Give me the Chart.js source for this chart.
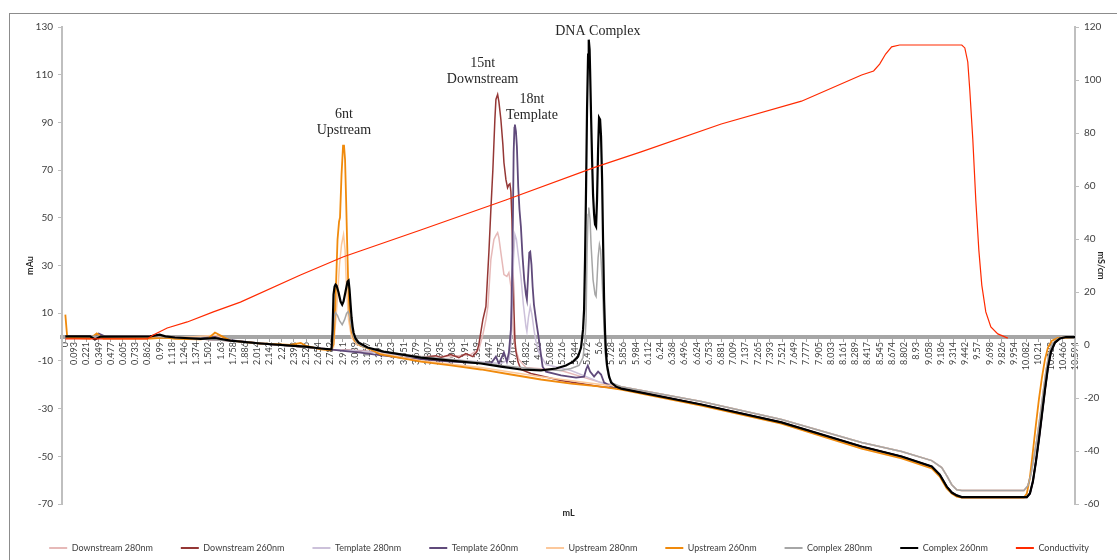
<!DOCTYPE html>
<html>
<head>
<meta charset="utf-8">
<script src="https://cdn.jsdelivr.net/npm/chart.js@4.4.1/dist/chart.umd.min.js"></script>
<style>
  html, body { margin: 0; padding: 0; background: #fff; }
  #wrap { width: 1117px; height: 560px; }
</style>
</head>
<body>
<div id="wrap"><canvas id="chrom" width="1117" height="560"></canvas></div>
<script>
// Elution volume tick labels (mL)
const xTickLabels = ['0','0.093','0.221','0.349','0.477','0.605','0.733','0.862','0.99','1.118','1.246','1.374','1.502','1.63','1.758','1.886','2.014','2.142','2.27','2.398','2.526','2.654','2.782','2.911','3.039','3.167','3.295','3.423','3.551','3.679','3.807','3.935','4.063','4.191','4.319','4.447','4.575','4.703','4.832','4.96','5.088','5.216','5.344','5.472','5.6','5.728','5.856','5.984','6.112','6.24','6.368','6.496','6.624','6.753','6.881','7.009','7.137','7.265','7.393','7.521','7.649','7.777','7.905','8.033','8.161','8.289','8.417','8.545','8.674','8.802','8.93','9.058','9.186','9.314','9.442','9.57','9.698','9.826','9.954','10.082','10.21','10.338','10.466','10.594'];
const xTickValues = xTickLabels.map(Number);

// Absorbance traces, [mL, mAu]
const downstream280 = [[0,0.2],[0.89,0.2],[1.15,-0.2],[1.42,-0.8],[1.73,-1.5],[2.05,-2.7],[2.36,-3.6],[2.68,-4.8],[2.79,-5.2],[3.1,-5.6],[3.31,-6.5],[3.729,-8.2],[4.044,-8.2],[4.255,-7.3],[4.339,-5.2],[4.381,1.0],[4.413,7.3],[4.434,12.8],[4.465,32.5],[4.497,40.9],[4.518,42.6],[4.536,43.8],[4.549,41.7],[4.570,35.4],[4.602,26.2],[4.633,25.4],[4.654,27.0],[4.675,21.2],[4.692,7.3],[4.707,-1.0],[4.717,-4.0],[4.759,-9.4],[4.833,-12.8],[5.201,-14.0],[5.621,-19.1],[5.832,-20.8],[6.673,-27.0],[7.514,-34.6],[8.355,-44.2],[8.775,-48.0],[9.091,-51.8],[9.196,-54.7],[9.248,-58.1],[9.301,-61.9],[9.353,-64.0],[9.406,-64.3],[10.058,-64.3],[10.100,-62.3],[10.131,-57.7],[10.163,-50.5],[10.194,-43.0],[10.226,-33.8],[10.257,-24.1],[10.289,-14.5],[10.320,-7.3],[10.352,-3.1],[10.405,-1.0],[10.457,0],[10.594,0]];

const downstream260 = [[0,0.2],[0.89,0.2],[1.15,-0.2],[1.42,-0.8],[1.73,-1.5],[2.05,-2.7],[2.36,-3.6],[2.68,-4.8],[2.80,-5.2],[2.90,-5.4],[3.31,-6.5],[3.729,-8.6],[3.887,-7.8],[3.939,-8.6],[4.044,-7.3],[4.129,-8.6],[4.202,-6.9],[4.276,-8.2],[4.318,-6.1],[4.339,-3.1],[4.381,7.3],[4.413,12.8],[4.444,35.4],[4.465,53.5],[4.486,70.2],[4.507,91.2],[4.518,99.6],[4.536,101.7],[4.549,98.7],[4.570,91.2],[4.591,80.7],[4.602,73.2],[4.623,66.0],[4.640,62.6],[4.654,63.9],[4.665,64.3],[4.675,61.0],[4.686,49.3],[4.696,32.5],[4.707,11.5],[4.717,-1.0],[4.728,-6.1],[4.749,-10.3],[4.780,-13.6],[4.885,-15.3],[5.201,-18.2],[5.621,-20.8],[5.832,-21.6],[6.673,-28.3],[7.514,-35.8],[8.355,-45.9],[8.775,-50.1],[9.091,-54.3],[9.175,-57.7],[9.248,-62.7],[9.301,-65.2],[9.353,-66.4],[9.406,-67.3],[10.089,-67.3],[10.121,-65.6],[10.152,-60.6],[10.184,-52.2],[10.215,-43.0],[10.247,-32.5],[10.279,-22.0],[10.310,-12.8],[10.342,-6.1],[10.384,-2.3],[10.436,-0.6],[10.499,0],[10.594,0]];

const template280 = [[0,0.2],[0.89,0.2],[1.15,-0.2],[1.42,-0.8],[1.73,-1.5],[2.05,-2.7],[2.36,-3.6],[2.68,-4.8],[2.79,-5.2],[3.1,-5.8],[3.31,-6.7],[3.729,-8.6],[4.044,-9.4],[4.570,-11.1],[4.654,-9.4],[4.675,-3.1],[4.691,15.7],[4.702,32.5],[4.717,43.0],[4.733,40.9],[4.749,35.4],[4.780,25.4],[4.806,13.6],[4.833,4.4],[4.843,2.3],[4.859,8.2],[4.878,12.8],[4.896,9.4],[4.917,3.1],[4.938,-1.9],[4.969,-6.5],[5.043,-11.5],[5.306,-14.0],[5.621,-19.1],[5.832,-20.8],[6.673,-27.0],[7.514,-34.6],[8.355,-44.2],[8.775,-48.0],[9.091,-51.8],[9.196,-54.7],[9.248,-58.1],[9.301,-61.9],[9.353,-64.0],[9.406,-64.3],[10.058,-64.3],[10.100,-62.3],[10.131,-57.7],[10.163,-50.5],[10.194,-43.0],[10.226,-33.8],[10.257,-24.1],[10.289,-14.5],[10.320,-7.3],[10.352,-3.1],[10.405,-1.0],[10.457,0],[10.594,0]];

const template260 = [[0,0.2],[0.31,0.2],[0.35,1.5],[0.42,0.2],[0.89,0.2],[1.15,-0.4],[1.42,-0.8],[1.57,0.4],[1.73,-1.3],[2.05,-2.7],[2.36,-3.6],[2.68,-4.8],[2.783,-5.2],[2.888,-5.7],[3.098,-6.5],[3.235,-7.3],[3.518,-8.6],[4.044,-10.3],[4.465,-11.1],[4.518,-8.2],[4.549,-11.1],[4.602,-6.5],[4.633,-10.3],[4.654,-6.5],[4.675,3.1],[4.686,21.2],[4.696,49.3],[4.704,77.4],[4.712,87.8],[4.717,89.1],[4.728,86.2],[4.738,79.9],[4.752,63.1],[4.765,53.5],[4.780,46.3],[4.796,34.6],[4.815,24.1],[4.833,17.8],[4.843,15.7],[4.854,24.1],[4.868,35.4],[4.878,35.8],[4.891,30.4],[4.903,21.2],[4.917,13.6],[4.938,7.3],[4.969,-1.0],[4.990,-7.3],[5.008,-12.4],[5.043,-14.5],[5.201,-16.1],[5.359,-17.0],[5.443,-16.6],[5.464,-13.6],[5.482,-12.0],[5.506,-14.5],[5.548,-16.6],[5.590,-14.5],[5.621,-15.7],[5.653,-19.1],[5.748,-21.2],[5.832,-21.6],[6.673,-28.3],[7.514,-35.8],[8.355,-45.9],[8.775,-50.1],[9.091,-54.3],[9.175,-57.7],[9.248,-62.7],[9.301,-65.2],[9.353,-66.4],[9.406,-67.1],[10.089,-67.1],[10.121,-65.6],[10.152,-60.6],[10.184,-52.2],[10.215,-43.0],[10.247,-32.5],[10.279,-22.0],[10.310,-12.8],[10.342,-6.1],[10.384,-2.3],[10.436,-0.6],[10.499,0],[10.594,0]];

const upstream280 = [[0,0.2],[0.89,0],[1.15,-0.4],[1.57,0.8],[1.73,-1.5],[2.05,-2.7],[2.36,-3.6],[2.68,-4.8],[2.78,-5.2],[2.814,-4.4],[2.846,11.5],[2.877,30.4],[2.898,38.8],[2.919,43.0],[2.935,36.7],[2.951,19.9],[2.972,7.3],[3.003,-0.2],[3.056,-3.1],[3.203,-5.2],[3.308,-6.9],[3.729,-9.9],[4.360,-12.8],[4.990,-16.6],[5.621,-19.9],[5.832,-20.8],[6.673,-27.0],[7.514,-34.6],[8.355,-44.2],[8.775,-48.0],[9.091,-51.8],[9.196,-54.7],[9.248,-58.1],[9.301,-61.9],[9.353,-64.0],[9.406,-64.3],[10.058,-64.3],[10.100,-62.3],[10.131,-57.7],[10.163,-50.5],[10.194,-43.0],[10.226,-33.8],[10.257,-24.1],[10.289,-14.5],[10.320,-7.3],[10.352,-3.1],[10.405,-1.0],[10.457,0],[10.594,0]];

const upstream260 = [[0,9.4],[0.02,-0.2],[0.26,-0.6],[0.33,1.5],[0.40,-0.6],[0.89,-0.6],[1.05,-0.2],[1.15,-0.8],[1.42,-1.0],[1.50,-0.6],[1.57,1.9],[1.63,0.6],[1.73,-1.5],[2.05,-2.7],[2.36,-3.3],[2.47,-2.5],[2.52,-3.6],[2.68,-5.2],[2.78,-5.6],[2.814,-3.1],[2.835,15.7],[2.856,40.9],[2.872,48.4],[2.882,50.1],[2.898,68.1],[2.914,80.3],[2.924,80.3],[2.935,74.4],[2.946,57.7],[2.956,40.9],[2.967,24.1],[2.982,9.4],[3.003,2.3],[3.035,-1.5],[3.098,-3.6],[3.203,-5.2],[3.308,-7.3],[3.729,-10.3],[4.044,-11.9],[4.360,-13.6],[4.675,-15.7],[4.990,-17.8],[5.306,-19.5],[5.621,-20.8],[5.832,-22.0],[6.673,-28.7],[7.514,-36.3],[8.355,-46.8],[8.775,-50.9],[9.091,-55.1],[9.175,-58.5],[9.248,-63.5],[9.301,-65.6],[9.353,-66.9],[9.406,-67.3],[10.058,-67.3],[10.089,-65.6],[10.121,-58.9],[10.152,-48.0],[10.184,-36.7],[10.215,-26.2],[10.247,-17.0],[10.279,-9.4],[10.310,-4.4],[10.352,-1.5],[10.415,-0.4],[10.594,0]];

const complex280 = [[0,0.3],[0.89,0.3],[1.15,-0.2],[1.42,-0.8],[1.73,-1.5],[2.05,-2.7],[2.36,-3.6],[2.68,-4.8],[2.79,-5.2],[2.804,-3.1],[2.814,5.2],[2.825,9.4],[2.835,10.3],[2.856,9.0],[2.877,6.9],[2.905,5.2],[2.930,7.3],[2.951,9.9],[2.968,10.7],[2.982,9.0],[3.003,4.0],[3.024,0.2],[3.056,-2.3],[3.119,-4.0],[3.308,-6.1],[3.729,-8.2],[4.044,-9.4],[4.360,-10.7],[4.570,-11.9],[4.990,-13.6],[5.201,-14.0],[5.306,-13.2],[5.390,-11.9],[5.432,-8.6],[5.453,-1.0],[5.464,7.3],[5.474,35.4],[5.485,51.4],[5.492,54.3],[5.506,49.3],[5.516,38.8],[5.537,24.1],[5.558,17.8],[5.569,17.0],[5.579,24.1],[5.590,33.3],[5.604,38.8],[5.616,36.7],[5.632,24.1],[5.642,14.5],[5.653,3.1],[5.664,-6.5],[5.684,-13.6],[5.706,-17.0],[5.748,-19.5],[5.832,-20.8],[6.673,-27.0],[7.514,-34.6],[8.355,-44.2],[8.775,-48.0],[9.091,-51.8],[9.196,-54.7],[9.248,-58.1],[9.301,-61.9],[9.353,-64.0],[9.406,-64.3],[10.058,-64.3],[10.100,-62.3],[10.131,-57.7],[10.163,-50.5],[10.194,-43.0],[10.226,-33.8],[10.257,-24.1],[10.289,-14.5],[10.320,-7.3],[10.352,-3.1],[10.405,-1.0],[10.457,0],[10.594,0]];

const complex260 = [[0,0.3],[0.26,0.3],[0.31,-1.0],[0.37,0.2],[0.89,0.3],[0.99,1.0],[1.05,0.3],[1.15,-0.2],[1.42,-0.8],[1.57,-0.4],[1.73,-1.5],[2.05,-2.7],[2.36,-3.6],[2.52,-4.0],[2.68,-4.8],[2.78,-5.2],[2.793,-5.2],[2.804,3.1],[2.814,17.8],[2.825,21.2],[2.835,22.0],[2.846,21.6],[2.867,18.7],[2.888,14.9],[2.905,13.6],[2.919,14.9],[2.940,19.1],[2.961,23.3],[2.972,23.7],[2.982,19.9],[2.993,13.6],[3.003,8.2],[3.014,4.4],[3.024,1.9],[3.045,-0.6],[3.077,-2.3],[3.171,-4.4],[3.340,-6.1],[3.729,-8.6],[4.044,-9.9],[4.360,-11.1],[4.570,-12.4],[4.780,-13.6],[4.990,-14.0],[5.148,-13.2],[5.253,-11.9],[5.327,-10.3],[5.380,-8.2],[5.411,-4.4],[5.432,3.1],[5.443,11.5],[5.453,32.5],[5.464,63.1],[5.474,95.4],[5.485,118.4],[5.492,124.7],[5.501,120.5],[5.506,112.2],[5.516,93.3],[5.527,74.4],[5.537,59.7],[5.548,51.4],[5.558,47.2],[5.569,46.3],[5.579,57.7],[5.590,78.6],[5.600,92.0],[5.611,91.2],[5.621,84.1],[5.632,66.0],[5.642,40.9],[5.653,15.7],[5.664,1.0],[5.674,-7.3],[5.684,-11.9],[5.706,-16.6],[5.727,-19.1],[5.779,-20.8],[5.832,-21.6],[6.673,-28.3],[7.514,-35.8],[8.355,-45.9],[8.775,-50.1],[9.091,-54.3],[9.175,-57.7],[9.248,-62.7],[9.301,-65.2],[9.353,-66.4],[9.406,-67.1],[10.089,-67.1],[10.121,-65.6],[10.152,-60.6],[10.184,-52.2],[10.215,-43.0],[10.247,-32.5],[10.279,-22.0],[10.310,-12.8],[10.342,-6.1],[10.384,-2.3],[10.436,-0.6],[10.499,0],[10.594,0]];

// Conductivity trace, [mL, mS/cm]
const conductivity = [[0,2.3],[0.86,2.3],[0.922,3.8],[1.069,6.4],[1.28,8.7],[1.553,12.5],[1.837,16.2],[2.467,26.4],[2.919,33.3],[3.729,43.4],[4.622,54.7],[5.568,67.2],[6.041,72.9],[6.882,83.4],[7.724,92.0],[8.355,101.9],[8.481,103.4],[8.544,106.0],[8.607,109.8],[8.670,112.5],[8.754,113.2],[9.406,113.2],[9.438,112.1],[9.469,106.8],[9.490,96.2],[9.522,77.4],[9.553,54.7],[9.585,35.8],[9.616,22.6],[9.658,12.5],[9.711,6.8],[9.784,4.2],[9.889,2.6]];

// Peak annotations: text lines, anchored at [mL, mAu]
const peakNotes = [
  { lines: ['6nt', 'Upstream'], at: [2.923, 90.1] },
  { lines: ['15nt', 'Downstream'], at: [4.378, 111.4] },
  { lines: ['18nt', 'Template'], at: [4.896, 96.4] },
  { lines: ['DNA Complex'], at: [5.587, 128.2] }
];

const FONT = "Lato, 'DejaVu Sans', sans-serif";
const toXY = arr => arr.map(([x, y]) => ({ x, y }));

const series = [
  { label: 'Downstream 280nm', data: downstream280, color: '#e6b9b8', width: 1.5 },
  { label: 'Downstream 260nm', data: downstream260, color: '#953735', width: 1.5 },
  { label: 'Template 280nm',   data: template280,   color: '#ccc1da', width: 1.5 },
  { label: 'Template 260nm',   data: template260,   color: '#604a7b', width: 1.8 },
  { label: 'Upstream 280nm',   data: upstream280,   color: '#fcc89b', width: 1.5 },
  { label: 'Upstream 260nm',   data: upstream260,   color: '#f08a0c', width: 1.8 },
  { label: 'Complex 280nm',    data: complex280,    color: '#a6a6a6', width: 1.5 },
  { label: 'Complex 260nm',    data: complex260,    color: '#000000', width: 2.2 },
  { label: 'Conductivity',     data: conductivity,  color: '#ff2a00', width: 1.2, axis: 'y2' }
];

const datasets = series.map((s, i) => ({
  label: s.label,
  data: toXY(s.data),
  borderColor: s.color,
  backgroundColor: s.color,
  borderWidth: s.width,
  pointRadius: 0,
  tension: 0,
  fill: false,
  xAxisID: 'x',
  yAxisID: s.axis || 'y',
  order: series.length - i   // later series drawn on top
}));

const framePlugin = {
  id: 'frame',
  beforeDraw(chart) {
    const { ctx, width, height } = chart;
    ctx.save();
    ctx.fillStyle = '#ffffff';
    ctx.fillRect(0, 0, width, height);
    ctx.strokeStyle = '#8c8c8c';
    ctx.lineWidth = 1;
    ctx.strokeRect(9.5, 13.5, width + 20, height + 20);
    ctx.restore();
  }
};

const peakLabelPlugin = {
  id: 'peakLabels',
  afterDatasetsDraw(chart) {
    const { ctx, scales } = chart;
    ctx.save();
    ctx.font = "14px 'Liberation Serif', 'Times New Roman', serif";
    ctx.fillStyle = '#262626';
    ctx.textAlign = 'center';
    ctx.textBaseline = 'middle';
    const lh = 16;
    peakNotes.forEach(n => {
      const px = scales.x.getPixelForValue(n.at[0]);
      const py = scales.y.getPixelForValue(n.at[1]);
      const top = py - (n.lines.length - 1) * lh / 2;
      n.lines.forEach((t, i) => ctx.fillText(t, px, top + i * lh));
    });
    ctx.restore();
  }
};

new Chart(document.getElementById('chrom'), {
  type: 'line',
  data: { datasets },
  plugins: [framePlugin, peakLabelPlugin],
  options: {
    responsive: false,
    animation: false,
    layout: { padding: { top: 27, left: 0, right: 0, bottom: -2.5 } },
    plugins: {
      tooltip: { enabled: false },
      legend: {
        position: 'bottom',
        align: 'end',
        labels: {
          boxWidth: 18,
          boxHeight: 2,
          padding: 28,
          color: '#404040',
          font: { family: FONT, size: 9 },
          sort: (a, b) => a.datasetIndex - b.datasetIndex,
          generateLabels: chart => Chart.defaults.plugins.legend.labels.generateLabels(chart)
            .map(l => Object.assign(l, { fillStyle: l.strokeStyle, lineWidth: 0 }))
        }
      }
    },
    scales: {
      x: {
        type: 'linear',
        position: { y: 0 },
        min: -0.035,
        max: 10.594,
        afterBuildTicks: s => { s.ticks = xTickValues.map(v => ({ value: v })); },
        ticks: {
          autoSkip: false,
          minRotation: 90,
          maxRotation: 90,
          padding: 2,
          color: '#404040',
          font: { family: FONT, size: 9 },
          callback: (v, i) => xTickLabels[i]
        },
        grid: { drawOnChartArea: false, drawTicks: true, tickLength: 3, color: '#a6a6a6', lineWidth: 1 },
        border: { color: '#a6a6a6', width: 4 }
      },
      xTitle: {
        type: 'linear',
        axis: 'x',
        position: 'bottom',
        min: 0,
        max: 1,
        ticks: { display: false },
        grid: { display: false },
        border: { display: false },
        title: { display: true, text: 'mL', color: '#262626', font: { family: FONT, size: 9, weight: 'bold' }, padding: { top: 0, bottom: -2.9 } },
        afterFit: s => { s.height = 11.5; }
      },
      y: {
        position: 'left',
        min: -70,
        max: 130,
        ticks: { stepSize: 20, padding: 5, color: '#404040', font: { family: FONT, size: 10 } },
        grid: { drawOnChartArea: false, drawTicks: true, tickLength: 4, color: '#bfbfbf' },
        border: { color: '#bfbfbf', width: 2 },
        title: { display: true, text: 'mAu', color: '#262626', font: { family: FONT, size: 9, weight: 'bold' }, padding: { top: 25, bottom: 0 } },
        afterFit: s => { s.width = 62; }
      },
      y2: {
        position: 'right',
        min: -60,
        max: 120,
        ticks: { stepSize: 20, padding: 5, color: '#404040', font: { family: FONT, size: 10 } },
        grid: { drawOnChartArea: false, drawTicks: true, tickLength: 4, color: '#bfbfbf' },
        border: { color: '#bfbfbf', width: 2 },
        title: { display: true, text: 'mS/cm', color: '#262626', font: { family: FONT, size: 9, weight: 'bold' }, padding: { top: 11, bottom: 0 } },
        afterFit: s => { s.width = 42; }
      }
    }
  }
});
</script>
</body>
</html>
